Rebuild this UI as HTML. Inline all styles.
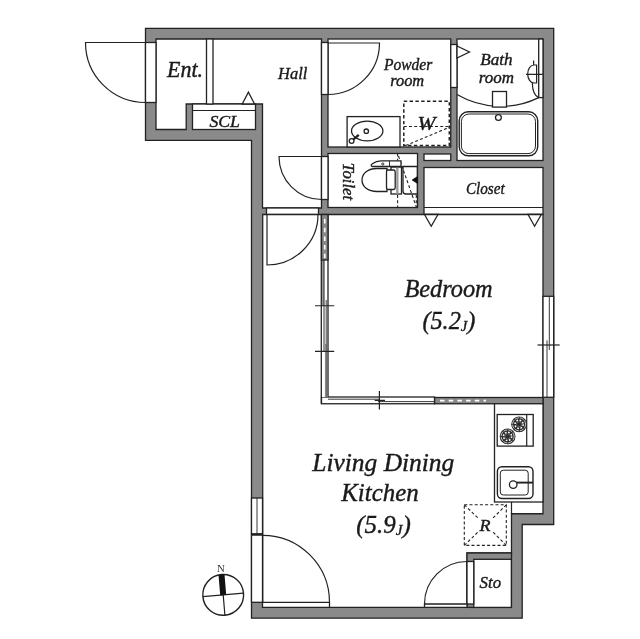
<!DOCTYPE html>
<html><head><meta charset="utf-8">
<style>
html,body{margin:0;padding:0;background:#fff;}
body{width:640px;height:639px;overflow:hidden;}
svg{display:block;}
text{font-family:"Liberation Serif",serif;font-style:italic;fill:#1a1a1a;}
.w{fill:#fff;stroke:#222;stroke-width:1.3;}
.g{fill:#8a8a8a;stroke:#222;stroke-width:1.3;}
.l{fill:none;stroke:#222;stroke-width:1.2;}
.t{fill:none;stroke:#222;stroke-width:0.9;}
.d{fill:none;stroke:#222;stroke-width:1.1;stroke-dasharray:3 2.2;}
</style></head><body>
<svg width="640" height="639" viewBox="0 0 640 639">
<rect width="640" height="639" fill="#fff"/>
<!-- outer wall -->
<path class="g" d="M145.5 28.4H553.7V524.5H522.2V618.2H251.5V140.3H145.5Z"/>
<!-- Ent + Hall -->
<path class="w" d="M156 39H321.5V208H262.5V104H186.2V129.5H156Z"/>
<!-- SCL -->
<rect class="w" x="192.5" y="104" width="63" height="25.5"/>
<path class="l" d="M192.5 110.5H255.5"/>
<!-- partition -->
<rect class="w" x="206.5" y="39" width="6.5" height="65"/>
<!-- hall triangle -->
<path class="w" d="M242.2 104L248.4 92.2L254.6 104Z"/>
<!-- Powder -->
<rect class="w" x="328" y="39" width="122.75" height="108"/>
<!-- Bath -->
<rect class="w" x="457" y="39" width="86" height="121.5"/>
<!-- Toilet -->
<rect class="w" x="328" y="153.5" width="89.5" height="54"/>
<!-- PS -->
<rect class="w" x="424" y="154" width="26.75" height="6.5"/>
<!-- Closet -->
<rect class="w" x="424" y="167.5" width="119" height="47"/>
<path class="l" d="M424 207.5H543"/>
<!-- Bedroom + LDK -->
<path class="w" d="M262.7 214.5H543V513.75H511.5V553H467V607.4H262.7Z"/>
<!-- closet triangles -->
<path class="w" d="M424.5 214.5H438L431.2 226.3Z"/>
<path class="w" d="M528 214.5H541.3L534.6 226.3Z"/>
<!-- doors frames -->
<rect class="w" x="145.5" y="42.5" width="10.5" height="60"/>
<rect class="w" x="321.5" y="42.5" width="6.5" height="52"/>
<rect class="w" x="321.5" y="156.5" width="6.5" height="43"/>
<rect class="w" x="266.5" y="208" width="52" height="6.3"/>
<rect class="w" x="450.75" y="44.5" width="6.25" height="43"/>
<path class="w" d="M457 46L469.5 52L457 58Z"/>
<!-- door leaves -->
<path class="l" d="M145.5 42.5H85.5A60 60 0 0 0 145.5 102.5"/>
<path class="l" d="M328 43H379.5A51.5 51.5 0 0 1 328 94.5"/>
<path class="l" d="M321.5 156.5H279A42.5 43 0 0 0 321.5 199.5"/>
<path class="l" d="M267 214.5V265A51 50.5 0 0 0 318 214.5"/>

<!-- bedroom/kitchen gray wall -->
<rect class="g" x="434.5" y="397.5" width="108.5" height="6.25"/>
<path d="M440 400.6H486" stroke="#fff" stroke-width="1.6" stroke-dasharray="4.5 4.2" fill="none"/>
<!-- bedroom bottom sliding door -->
<rect class="w" x="321.5" y="397" width="113" height="6.75"/>
<path class="t" d="M328 399.2H380M378 401.6H434.5"/>
<path class="l" d="M379.4 391V409.5M374.7 400.4H385"/>
<!-- bedroom left wall: gray dashed top then sliding -->
<rect x="321.5" y="214.5" width="6.5" height="182.5" fill="#fff"/>
<rect x="322" y="260" width="2.2" height="46" fill="#999"/>
<rect x="324.9" y="344" width="1.8" height="53" fill="#aaa"/>
<path d="M321.3 214.5V403.75M328 214.5V397" stroke="#222" stroke-width="1.3" fill="none"/>
<path d="M324 260V352" stroke="#333" stroke-width="1" fill="none"/>
<path d="M326.2 300V397" stroke="#444" stroke-width="1" fill="none"/>
<rect class="g" x="321.5" y="214.5" width="6.5" height="45.5"/>
<path d="M324.75 219V258" stroke="#fff" stroke-width="1.6" stroke-dasharray="4.5 4.2" fill="none"/>
<path class="l" d="M315 305.75H334.2M315 351.4H334.2"/>
<!-- right window -->
<rect class="w" x="543" y="296.3" width="10.7" height="101"/>
<path class="t" d="M549.3 296.3V350M547 340.4V397.3"/>
<path class="l" d="M537.5 345H559.7"/>
<!-- left LDK window -->
<rect class="w" x="251.5" y="498" width="11" height="36"/>
<path class="t" d="M257 498V534"/>
<!-- left LDK door -->
<rect class="w" x="251.5" y="535" width="11" height="67.3"/>
<path d="M251.5 534.3H262.5" stroke="#222" stroke-width="2" fill="none"/>
<path class="w" d="M262.5 602.3H329.5V607.4H262.5Z"/>
<path class="l" d="M262.5 535.3A67 67 0 0 1 329.5 602.3"/>
<!-- kitchen counter -->
<rect class="w" x="494.5" y="403.75" width="48.5" height="98.25"/>
<path class="l" d="M511.5 502V514"/>
<!-- Sto -->
<rect class="g" x="467" y="553" width="44.5" height="54.4"/>
<rect class="w" x="473.75" y="559.3" width="37.6" height="48.1"/>
<rect class="w" x="467" y="561.5" width="6.75" height="42.5"/>
<path class="w" d="M424.5 604H467V607.4H424.5Z" stroke-width="1"/>
<path class="l" d="M424.5 604A42.5 42.5 0 0 1 467 561.5"/>
<!-- R dashed -->
<rect class="d" x="464.3" y="504.8" width="42" height="40.6"/>
<path class="d" d="M464.3 504.8L479 519M506.3 504.8L492 519M464.3 545.4L479 531M506.3 545.4L492 531"/>
<!-- compass -->
<g transform="translate(223.2 594.9) rotate(-4.8)">
<circle r="20.4" fill="#fff" stroke="#222" stroke-width="1.4"/>
<path d="M-20.4 0H20.4M0 0V20.4" stroke="#222" stroke-width="1.2" fill="none"/>
<rect x="-3" y="-20.2" width="6" height="20.2" fill="#111"/>
</g>

<!-- Bath fixtures -->
<rect class="w" x="538.7" y="39" width="4.3" height="58.6"/>
<path class="l" d="M457 94.6A86.5 86.5 0 0 0 538.7 97.6"/>
<rect class="w" x="492.5" y="91.5" width="14" height="15.6"/>
<rect x="459.2" y="111.8" width="78.5" height="44" rx="9" ry="9" fill="#fff" stroke="#222" stroke-width="1.4"/>
<rect x="461.4" y="114" width="74.1" height="39.6" rx="7.5" ry="7.5" fill="#fff" stroke="#222" stroke-width="1"/>
<circle class="w" cx="498.4" cy="117.5" r="2.9" stroke-width="1.1"/>
<path class="l" d="M536.6 65H534A6.3 9 0 0 0 534 83H536.6ZM526 74.3H542.8M533.6 60.5V65M532.3 83C532.5 91 535 96 538.7 97.6"/>
<!-- Powder fixtures -->
<rect class="w" x="347.1" y="116.6" width="52.9" height="30.4"/>
<ellipse class="w" cx="367.2" cy="131" rx="15.7" ry="9.8" stroke-width="1.1"/>
<circle class="w" cx="366.3" cy="131.2" r="2.2" stroke-width="1.1"/>
<path d="M352.5 140.2L358.8 134.8" stroke="#222" stroke-width="2.4" fill="none"/>
<circle class="w" cx="351.6" cy="141" r="2.4" stroke-width="1.2"/>
<g fill="none" stroke="#222" stroke-width="1.5" stroke-dasharray="3.4 2.4">
<rect x="403.8" y="101.3" width="45.5" height="44.3"/>
</g>
<path class="d" d="M403.8 126.5H449.3M405.6 145.6L449.3 127.3"/>
<!-- Kitchen fixtures -->
<rect class="w" x="497.2" y="414.5" width="36" height="31.6" stroke-width="1.5"/>
<path class="l" d="M526.7 414.6V446.1"/>
<defs><g id="burner">
<circle cx="0" cy="0" r="7.9" fill="#2a2a2a"/>
<circle cx="0" cy="0" r="6.5" fill="none" stroke="#ddd" stroke-width="0.9" stroke-dasharray="4.1 1"/>
<circle cx="0" cy="0" r="4.1" fill="none" stroke="#fff" stroke-width="1.5" stroke-dasharray="1.7 1.52"/>
<circle cx="0" cy="0" r="2.6" fill="none" stroke="#999" stroke-width="0.5"/>
</g></defs>
<use href="#burner" x="519.1" y="424.3"/>
<use href="#burner" x="507.6" y="436.4"/>
<rect x="497.4" y="466.8" width="35.6" height="31.7" rx="4.5" ry="4.5" fill="#fff" stroke="#222" stroke-width="1.4"/>
<rect x="500.3" y="470.2" width="27.9" height="24.8" rx="3" ry="3" fill="#fff" stroke="#222" stroke-width="1"/>
<path d="M516 482.6H533" stroke="#222" stroke-width="1.9" fill="none"/>
<circle class="w" cx="513.2" cy="484.6" r="3.8" stroke-width="1.3"/>

<!-- Toilet fixture -->
<path class="d" d="M397.6 153.5V207.5M398.5 156L416.3 207M416.3 195V207.5"/>
<path class="w" d="M403 166.5H417.3V194H406A3 3 0 0 1 403 191Z" stroke-width="1.1"/>
<path class="d" d="M403.5 170.5L412.5 196" stroke-width="1.4"/>
<path d="M417.3 177.2L412.6 180L417.3 182.8Z" fill="#111" stroke="#111" stroke-width="1.4" stroke-linejoin="round"/>
<rect class="w" x="391" y="167" width="10.5" height="27" stroke-width="1.1"/>
<rect x="396.2" y="167.5" width="2.3" height="26" fill="#999"/>
<path class="w" d="M372.6 166.5C370.8 166.5 370.8 164.6 372.3 163.8C375 161.8 378 160.8 381 160.8H401V166.5Z" stroke-width="1.1"/>
<path class="t" d="M389.5 160.8V166.5"/>
<circle cx="382.8" cy="164" r="1.1" fill="#fff" stroke="#222" stroke-width="0.9"/>
<path class="w" d="M387 168.5H377C368 168.5 362 173.2 362 180S368 191.5 377 191.5H387Z" stroke-width="1.2"/>
<rect class="w" x="386.5" y="170" width="8.7" height="19.5" rx="1.8" ry="1.8" stroke-width="1.2"/>

<!-- Labels -->
<g stroke="#1a1a1a" stroke-width="0.4" opacity="0.999">
<text id="t_ent" x="167" y="77.3" font-size="22.3" textLength="36" lengthAdjust="spacingAndGlyphs">Ent.</text>
<text id="t_hall" x="278" y="79" font-size="17.2" textLength="29.3" lengthAdjust="spacingAndGlyphs">Hall</text>
<text id="t_scl" x="209.4" y="126.8" font-size="17.5" textLength="30.6" lengthAdjust="spacingAndGlyphs">SCL</text>
<text id="t_pow" x="384" y="70" font-size="16.8" textLength="48.3" lengthAdjust="spacingAndGlyphs">Powder</text>
<text id="t_room1" x="390.2" y="86.4" font-size="16.8" textLength="34" lengthAdjust="spacingAndGlyphs">room</text>
<text id="t_bath" x="480.2" y="65.3" font-size="16.8" textLength="32.3" lengthAdjust="spacingAndGlyphs">Bath</text>
<text id="t_room2" x="478.8" y="82.7" font-size="16.8" textLength="35.2" lengthAdjust="spacingAndGlyphs">room</text>
<text id="t_w" x="417.4" y="129.5" font-size="18" textLength="18" lengthAdjust="spacingAndGlyphs">W</text>
<text id="t_toilet" transform="translate(343 162.8) rotate(90)" font-size="17.2" textLength="37.2" lengthAdjust="spacingAndGlyphs">Toilet</text>
<text id="t_closet" x="465.9" y="194" font-size="17.6" textLength="38.8" lengthAdjust="spacingAndGlyphs">Closet</text>
<text id="t_bed" x="404.4" y="296.6" font-size="24.6" textLength="88.3" lengthAdjust="spacingAndGlyphs">Bedroom</text>
<text id="t_52" x="422.4" y="328.8" font-size="25" textLength="53" lengthAdjust="spacingAndGlyphs">(5.2<tspan font-size="15" dy="2">J</tspan><tspan dy="-2">)</tspan></text>
<text id="t_ld" x="312.3" y="470.6" font-size="24.4" textLength="142" lengthAdjust="spacingAndGlyphs">Living Dining</text>
<text id="t_kit" x="341.2" y="501.3" font-size="24.6" textLength="77.5" lengthAdjust="spacingAndGlyphs">Kitchen</text>
<text id="t_59" x="356.2" y="532.8" font-size="25" textLength="54.5" lengthAdjust="spacingAndGlyphs">(5.9<tspan font-size="15" dy="2">J</tspan><tspan dy="-2">)</tspan></text>
<text id="t_r" x="479.6" y="530.7" font-size="17.2" textLength="11" lengthAdjust="spacingAndGlyphs">R</text>
<text id="t_sto" x="479.6" y="588.3" font-size="17.6" textLength="21.5" lengthAdjust="spacingAndGlyphs">Sto</text>
<text id="t_n" x="221" y="571.6" font-size="10.8" text-anchor="middle" stroke="none" style="font-style:normal;fill:#333">N</text>
</g>

</svg>
</body></html>
